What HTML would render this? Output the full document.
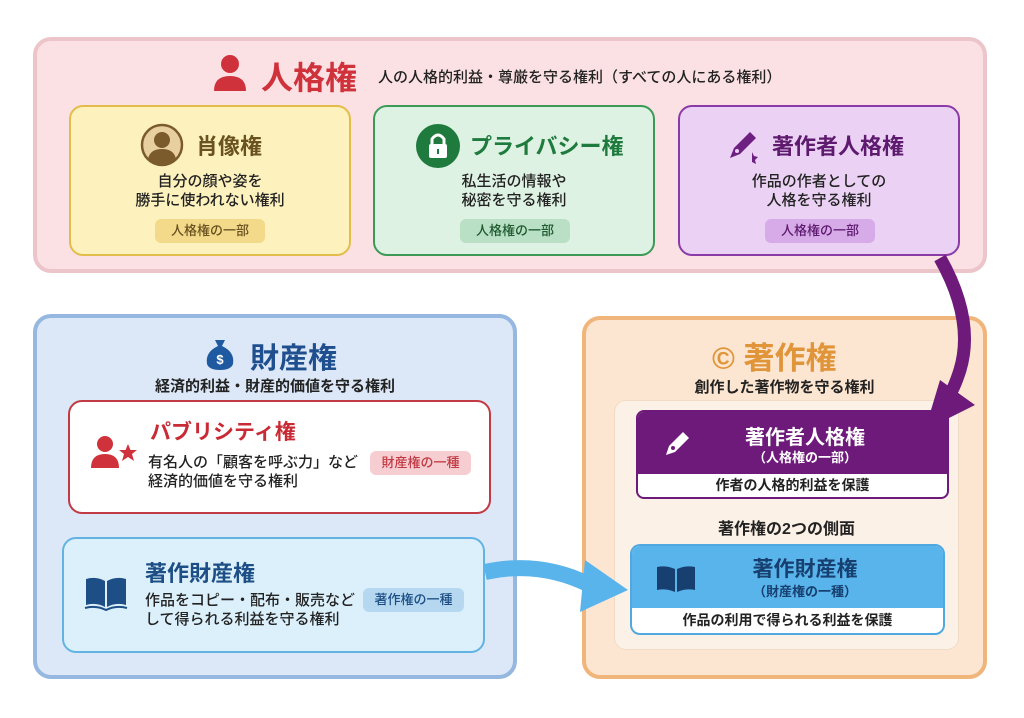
<!DOCTYPE html>
<html><head><meta charset="utf-8"><style>
*{margin:0;padding:0;box-sizing:border-box}
body{width:1024px;height:718px;background:#fff;position:relative;overflow:hidden;font-family:"Liberation Sans","Noto Sans CJK JP",sans-serif;color:#222}
.a{position:absolute}
.box{position:absolute;border-radius:18px}
.t{position:absolute;white-space:nowrap;font-weight:bold}
.n{font-weight:500}
.c{text-align:center}
.tag{position:absolute;border-radius:6px;font-size:13px;text-align:center;line-height:24px;font-weight:500}
</style></head><body>

<div class="box" style="left:33px;top:37px;width:954px;height:236px;background:#fbe1e4;border:4px solid #ecc5cb"></div>
<svg class="a" style="left:212px;top:54px" width="36" height="38" viewBox="0 0 36 38"><circle cx="18" cy="10" r="9" fill="#d0323c"/><path d="M2 37 Q2 22 18 22 Q34 22 34 37Z" fill="#d0323c"/></svg>
<div class="t" style="left:261px;top:53px;font-size:32px;color:#d0323c">人格権</div>
<div class="t n" style="left:378px;top:66px;font-size:15px;color:#222">人の人格的利益・尊厳を守る権利（すべての人にある権利）</div>

<div class="box" style="left:69px;top:105px;width:282px;height:151px;background:#fdf2be;border:2px solid #e2bd4b;border-radius:14px"></div>
<svg class="a" style="left:140px;top:123px" width="44" height="44"><circle cx="22" cy="22" r="20" fill="#e8cfa0" stroke="#7b5a2c" stroke-width="2.5"/><circle cx="22" cy="17" r="8" fill="#7b5a2c"/><path d="M8 36 Q10 26 22 26 Q34 26 36 36 Q22 46 8 36Z" fill="#7b5a2c"/></svg>
<div class="t" style="left:196px;top:129px;font-size:22px;color:#6a5220">肖像権</div>
<div class="t n c" style="left:69px;width:282px;top:172px;font-size:15px;line-height:19px">自分の顔や姿を<br>勝手に使われない権利</div>
<div class="tag" style="left:155px;top:219px;width:110px;background:#f3d98a;color:#6a5220">人格権の一部</div>

<div class="box" style="left:373px;top:105px;width:282px;height:151px;background:#def2e3;border:2px solid #3c9a56;border-radius:14px"></div>
<svg class="a" style="left:416px;top:124px" width="44" height="44"><circle cx="22" cy="22" r="22" fill="#1f7a3d"/><rect x="13" y="20" width="18" height="14" rx="2" fill="#fff"/><path d="M16 20 V15 Q22 7 28 15 V20" fill="none" stroke="#fff" stroke-width="3"/><rect x="21" y="25" width="2" height="5" fill="#1f7a3d"/></svg>
<div class="t" style="left:470px;top:129px;font-size:22px;color:#1f7a3d">プライバシー権</div>
<div class="t n c" style="left:373px;width:282px;top:172px;font-size:15px;line-height:19px">私生活の情報や<br>秘密を守る権利</div>
<div class="tag" style="left:460px;top:219px;width:110px;background:#b9e0c4;color:#1f5a30">人格権の一部</div>

<div class="box" style="left:678px;top:105px;width:282px;height:151px;background:#ebd2f4;border:2px solid #8b3ba8;border-radius:14px"></div>
<svg class="a" style="left:724px;top:128px" width="36" height="36"><path d="M6 30 L10 20 L26 4 L32 10 L16 26 Z" fill="#6e1f82"/><circle cx="13" cy="23" r="2" fill="#ebd2f4"/><path d="M28 24 l2 4 4 1 -3 3 1 4 -4 -2" fill="#6e1f82"/></svg>
<div class="t" style="left:772px;top:129px;font-size:22px;color:#5e1a6e">著作者人格権</div>
<div class="t n c" style="left:678px;width:282px;top:172px;font-size:15px;line-height:19px">作品の作者としての<br>人格を守る権利</div>
<div class="tag" style="left:765px;top:219px;width:110px;background:#d7abe8;color:#5e1a6e">人格権の一部</div>

<div class="box" style="left:33px;top:314px;width:484px;height:365px;background:#dce8f7;border:4px solid #95b7e0"></div>
<svg class="a" style="left:205px;top:336px" width="30" height="34"><path d="M10 4 L20 4 L17 10 Q30 16 28 28 Q26 34 15 34 Q4 34 2 28 Q0 16 13 10Z" fill="#1f5aa0"/><text x="15" y="28" font-size="13" fill="#fff" text-anchor="middle" font-family="Liberation Sans" font-weight="bold">$</text></svg>
<div class="t" style="left:250px;top:335px;font-size:29px;color:#1f4f8f">財産権</div>
<div class="t c" style="left:33px;width:484px;top:375px;font-size:15px">経済的利益・財産的価値を守る権利</div>

<div class="box" style="left:68px;top:400px;width:423px;height:114px;background:#fff;border:2.5px solid #c23a44;border-radius:14px"></div>
<svg class="a" style="left:90px;top:434px" width="48" height="36"><circle cx="15" cy="10" r="8" fill="#d0323c"/><path d="M1 34 Q1 20 15 20 Q29 20 29 34Z" fill="#d0323c"/><polygon points="38,10 40.5,16 47,16 42,20 44,27 38,23 32,27 34,20 29,16 35.5,16" fill="#d0323c"/></svg>
<div class="t" style="left:150px;top:416px;font-size:21px;color:#c82b35">パブリシティ権</div>
<div class="t n" style="left:148px;top:453px;font-size:15px;line-height:19px">有名人の「顧客を呼ぶ力」など<br>経済的価値を守る権利</div>
<div class="tag" style="left:370px;top:451px;width:101px;background:#f6cdd0;color:#c23a44">財産権の一種</div>

<div class="box" style="left:62px;top:537px;width:423px;height:116px;background:#dcf0fb;border:2.5px solid #62b3e2;border-radius:14px"></div>
<svg class="a" style="left:84px;top:575px" width="44" height="36"><path d="M2 4 Q12 1 21 6 V32 Q12 27 2 30Z" fill="#1d4f86"/><path d="M42 4 Q32 1 23 6 V32 Q32 27 42 30Z" fill="#1d4f86"/><path d="M1 33 Q12 30 22 35 Q32 30 43 33" fill="none" stroke="#1d4f86" stroke-width="2"/></svg>
<div class="t" style="left:145px;top:556px;font-size:22px;color:#1d4f86">著作財産権</div>
<div class="t n" style="left:145px;top:591px;font-size:15px;line-height:19px">作品をコピー・配布・販売など<br>して得られる利益を守る権利</div>
<div class="tag" style="left:363px;top:588px;width:101px;background:#b5d8f0;color:#1d4f86">著作権の一種</div>

<div class="box" style="left:582px;top:316px;width:405px;height:363px;background:#fde6d1;border:4px solid #efb57a"></div>
<div class="t" style="left:712px;top:333px;font-size:31px;color:#e0953b">© 著作権</div>
<div class="t c" style="left:582px;width:405px;top:376px;font-size:15px">創作した著作物を守る権利</div>
<div class="box" style="left:614px;top:400px;width:345px;height:250px;background:#fcf1e6;border:1.5px solid #f0dcc6;border-radius:12px"></div>

<div class="box" style="left:636px;top:410px;width:313px;height:89px;background:#fff;border:2.5px solid #6e1a7a;border-radius:8px;overflow:hidden"><div style="height:62px;background:#6e1a7a"></div></div>
<svg class="a" style="left:663px;top:428px" width="30" height="30"><path d="M3 27 L6 18 L20 4 L26 10 L12 24 Z" fill="#fff"/><circle cx="10" cy="20" r="2" fill="#6e1a7a"/></svg>
<div class="t c" style="left:690px;width:230px;top:421px;font-size:20px;color:#fff">著作者人格権</div>
<div class="t c" style="left:690px;width:230px;top:447px;font-size:13px;color:#fff">（人格権の一部）</div>
<div class="t c" style="left:636px;width:313px;top:475px;font-size:14px">作者の人格的利益を保護</div>

<div class="t c" style="left:614px;width:345px;top:515px;font-size:16px">著作権の2つの側面</div>

<div class="box" style="left:630px;top:544px;width:315px;height:91px;background:#fff;border:2px solid #4fa9e0;border-radius:10px;overflow:hidden"><div style="height:62px;background:#58b4eb"></div></div>
<svg class="a" style="left:656px;top:565px" width="40" height="28"><path d="M1 2 Q10 0 19 4 V27 Q10 23 1 25Z" fill="#173f70"/><path d="M39 2 Q30 0 21 4 V27 Q30 23 39 25Z" fill="#173f70"/></svg>
<div class="t c" style="left:690px;width:230px;top:553px;font-size:21px;color:#173f70">著作財産権</div>
<div class="t c" style="left:690px;width:230px;top:581px;font-size:13px;color:#173f70">（財産権の一種）</div>
<div class="t c" style="left:630px;width:315px;top:610px;font-size:14px">作品の利用で得られる利益を保護</div>

<svg class="a" style="left:0;top:0" width="1024" height="718">
<path d="M940 258 Q975 320 960 370 Q952 395 945 400" fill="none" stroke="#6e1a7a" stroke-width="13"/>
<polygon points="925,430 975,405 940,380" fill="#6e1a7a"/>
<path d="M485 572 Q540 560 590 585" fill="none" stroke="#5ab4ec" stroke-width="16"/>
<polygon points="628,590 585,560 580,612" fill="#5ab4ec"/>
</svg>
</body></html>
